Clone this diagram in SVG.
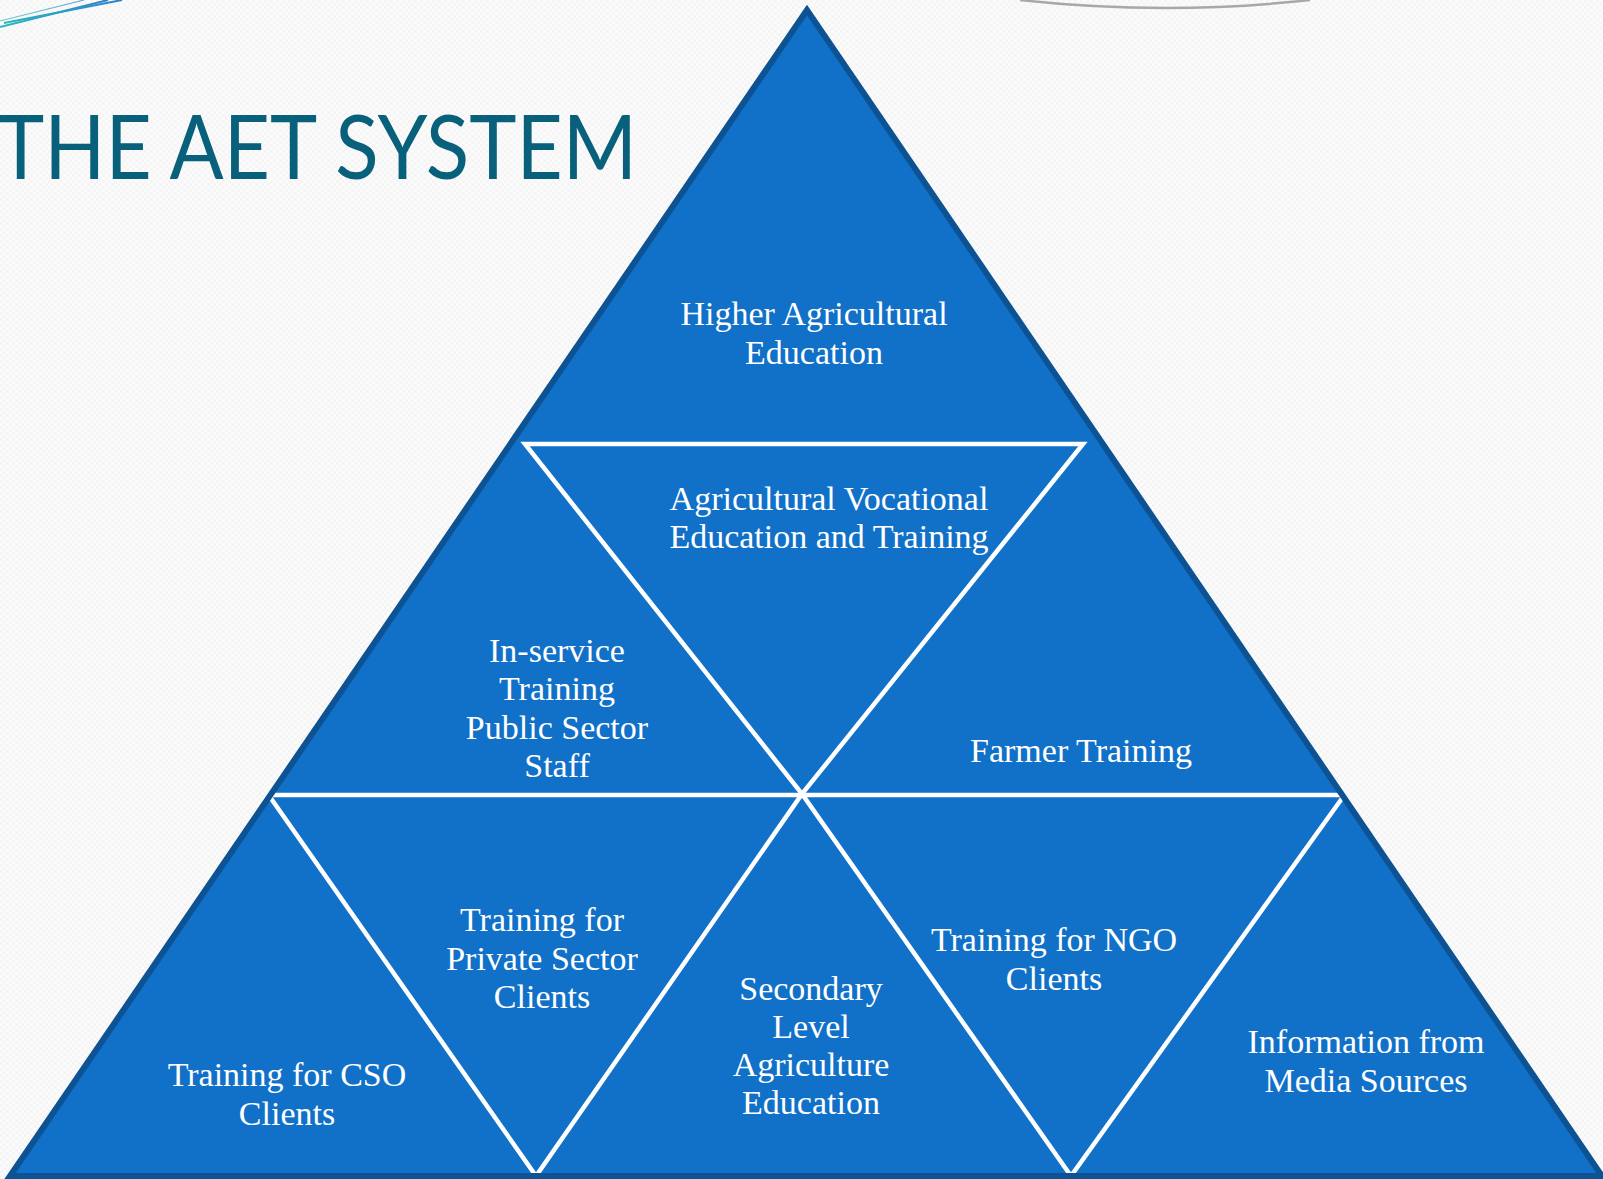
<svg xmlns="http://www.w3.org/2000/svg" width="1603" height="1179" viewBox="0 0 1603 1179">
  <defs>
    <pattern id="bgpat" width="6" height="6" patternUnits="userSpaceOnUse">
      <rect width="6" height="6" fill="#FBFBFB"/>
      <rect width="3" height="3" fill="#F5F5F5"/>
      <rect x="3" y="3" width="3" height="3" fill="#F5F5F5"/>
    </pattern>
    <linearGradient id="swoosh" x1="0" y1="0" x2="1" y2="0">
      <stop offset="0" stop-color="#2BB7BF"/>
      <stop offset="1" stop-color="#2F7FC9"/>
    </linearGradient>
    <style>
      .region { fill: #1170C8; stroke: none; }
      .lbl { font-family: "Liberation Serif", "Times New Roman", serif; font-size: 34px; fill: #FFFFFF; text-anchor: middle; }
      .sep { stroke: #FFFFFF; stroke-width: 4.5; stroke-linecap: round; fill: none; }
      .outline { fill: none; stroke: #0D5393; stroke-width: 6; stroke-linejoin: miter; }
      .title { font-family: Lato, "Open Sans", "Liberation Sans", sans-serif; font-size: 89px; fill: #08607A; }
    </style>
  </defs>

  <rect width="1603" height="1179" fill="url(#bgpat)"/>

  <!-- decorations -->
  <g id="decor">
    <path d="M0,27 L108,0" stroke="url(#swoosh)" stroke-width="2" fill="none"/>
    <path d="M4,23 L122,0" stroke="url(#swoosh)" stroke-width="2" fill="none"/>
    <path d="M0,21 L84,0" stroke="url(#swoosh)" stroke-width="1.2" fill="none" opacity="0.7"/>
    <path d="M1020,0 Q1165,16 1310,0" stroke="#A8A8A8" stroke-width="2.5" fill="none"/>
  </g>

  <g id="title">
    <text class="title" x="-3" y="179" textLength="640" lengthAdjust="spacingAndGlyphs">THE AET SYSTEM</text>
  </g>

  <!-- base triangle -->
  <polygon class="region" points="807,10 10,1176 1602,1176"/>

  <g id="higher-agricultural-education">
    <polygon class="region" points="807,10 510.6,444 1102.9,444"/>
    <text class="lbl" x="814" y="325">Higher Agricultural</text>
    <text class="lbl" x="814" y="364">Education</text>
  </g>

  <g id="agricultural-vocational-education">
    <polygon class="region" points="525,444 1083,444 802,794"/>
    <text class="lbl" x="829" y="510">Agricultural Vocational</text>
    <text class="lbl" x="829" y="548">Education and Training</text>
  </g>

  <g id="in-service-training">
    <polygon class="region" points="510.6,444 525,444 802,795 270,795"/>
    <text class="lbl" x="557" y="662">In-service</text>
    <text class="lbl" x="557" y="700">Training</text>
    <text class="lbl" x="557" y="739">Public Sector</text>
    <text class="lbl" x="557" y="777">Staff</text>
  </g>

  <g id="farmer-training">
    <polygon class="region" points="1083,444 1102.9,444 1342,795 802,795"/>
    <text class="lbl" x="1081" y="762">Farmer Training</text>
  </g>

  <g id="training-cso">
    <polygon class="region" points="270,795 536,1176 10,1176"/>
    <text class="lbl" x="287" y="1086">Training for CSO</text>
    <text class="lbl" x="287" y="1125">Clients</text>
  </g>

  <g id="training-private-sector">
    <polygon class="region" points="270,795 802,795 536,1176"/>
    <text class="lbl" x="542" y="931">Training for</text>
    <text class="lbl" x="542" y="970">Private Sector</text>
    <text class="lbl" x="542" y="1008">Clients</text>
  </g>

  <g id="secondary-level-education">
    <polygon class="region" points="802,795 1071,1176 536,1176"/>
    <text class="lbl" x="811" y="1000">Secondary</text>
    <text class="lbl" x="811" y="1038">Level</text>
    <text class="lbl" x="811" y="1076">Agriculture</text>
    <text class="lbl" x="811" y="1114">Education</text>
  </g>

  <g id="training-ngo">
    <polygon class="region" points="802,795 1342,795 1071,1176"/>
    <text class="lbl" x="1054" y="951">Training for NGO</text>
    <text class="lbl" x="1054" y="990">Clients</text>
  </g>

  <g id="media-sources">
    <polygon class="region" points="1342,795 1602,1176 1071,1176"/>
    <text class="lbl" x="1366" y="1053">Information from</text>
    <text class="lbl" x="1366" y="1092">Media Sources</text>
  </g>

  <!-- separators -->
  <g id="connectors">
    <path class="sep" d="M525,444 L1083,444 L802,794 Z"/>
    <path class="sep" d="M272,795 L1341,795"/>
    <path class="sep" d="M270,797 L536,1176 L802,794 L1071,1176 L1343,797"/>
  </g>

  <polygon class="outline" points="807,10 10,1176 1602,1176"/>
</svg>
